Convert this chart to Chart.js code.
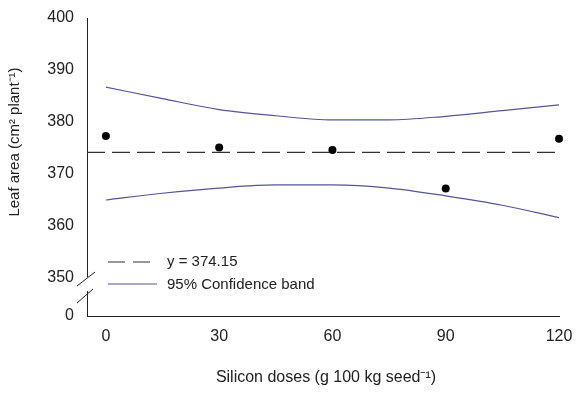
<!DOCTYPE html>
<html>
<head>
<meta charset="utf-8">
<script src="https://cdn.jsdelivr.net/npm/chart.js@4"></script>
<style>
  html, body { margin: 0; padding: 0; background: #fff; }
  #wrap { width: 584px; height: 393px; }
</style>
</head>
<body>
<div id="wrap"><canvas id="chart" width="584" height="393"></canvas></div>
<script>
// observed data
const doses = [0, 30, 60, 90, 120];
const leafArea = [377.3, 375.1, 374.6, 367.2, 376.8];
const meanLeafArea = 374.15;
const meanX = [-5, 120];

// 95% confidence band
const bandX = [0, 15, 30, 45, 60, 75, 90, 105, 120];
const upperBand = [386.7, 384.5, 382.4, 381.2, 380.4, 380.4, 381.1, 382.2, 383.3];
const lowerBand = [365.0, 366.3, 367.3, 367.9, 367.9, 367.3, 365.8, 364.0, 361.6];

// axis ticks
const xTicks = [0, 30, 60, 90, 120];
const yTicks = [350, 360, 370, 380, 390, 400];
const yBreak = 342.7; // where the "0" sits below the axis break

const FONT = "'Liberation Sans Narrow', 'Arial Narrow', 'Liberation Sans', Arial, sans-serif";
const BAND_COLOR = "#55559a";
const MEAN_COLOR = "#333333";
const MEAN_DASH = [18, 7];

const pairs = (xs, ys) => xs.map((x, i) => ({ x: x, y: ys[i] }));

const extras = {
  id: "extras",
  afterDraw(chart) {
    const ctx = chart.ctx;
    const yAxis = chart.scales.y;
    const axX = yAxis.right;

    // axis break on the y axis
    ctx.save();
    ctx.fillStyle = "#fff";
    ctx.fillRect(axX - 3, 277, 6, 14);
    ctx.strokeStyle = "#222";
    ctx.lineWidth = 1;
    ctx.beginPath();
    ctx.moveTo(77, 286);
    ctx.lineTo(95, 272);
    ctx.moveTo(77, 303);
    ctx.lineTo(93, 289);
    ctx.stroke();

    // legend
    ctx.lineWidth = 1.2;
    ctx.strokeStyle = MEAN_COLOR;
    ctx.setLineDash([17, 8]);
    ctx.beginPath();
    ctx.moveTo(108, 262);
    ctx.lineTo(158, 262);
    ctx.stroke();
    ctx.setLineDash([]);
    ctx.strokeStyle = BAND_COLOR;
    ctx.beginPath();
    ctx.moveTo(108, 284);
    ctx.lineTo(157, 284);
    ctx.stroke();
    ctx.fillStyle = "#222";
    ctx.font = "15px " + FONT;
    ctx.textBaseline = "middle";
    ctx.textAlign = "left";
    ctx.fillText("y = " + meanLeafArea.toFixed(2), 167, 262);
    ctx.fillText("95% Confidence band", 167, 285);

    // axis titles
    ctx.font = "16px " + FONT;
    ctx.textAlign = "center";
    ctx.fillText("Silicon doses (g 100 kg seed\u207B\u00B9)", 326, 378);
    ctx.font = "15px " + FONT;
    ctx.translate(15, 142);
    ctx.rotate(-Math.PI / 2);
    ctx.fillText("Leaf area (cm\u00B2 plant\u207B\u00B9)", 0, 0);
    ctx.restore();
  }
};

new Chart(document.getElementById("chart"), {
  type: "scatter",
  data: {
    datasets: [
      {
        label: "Leaf area",
        data: pairs(doses, leafArea),
        pointRadius: 4,
        pointBackgroundColor: "#000",
        pointBorderWidth: 0,
        showLine: false,
        clip: false
      },
      {
        label: "y = " + meanLeafArea,
        data: pairs(meanX, [meanLeafArea, meanLeafArea]),
        showLine: true,
        pointRadius: 0,
        borderColor: MEAN_COLOR,
        borderWidth: 1.2,
        borderDash: MEAN_DASH
      },
      {
        label: "Upper band",
        data: pairs(bandX, upperBand),
        showLine: true,
        pointRadius: 0,
        borderColor: BAND_COLOR,
        borderWidth: 1.2,
        cubicInterpolationMode: "monotone"
      },
      {
        label: "Lower band",
        data: pairs(bandX, lowerBand),
        showLine: true,
        pointRadius: 0,
        borderColor: BAND_COLOR,
        borderWidth: 1.2,
        cubicInterpolationMode: "monotone"
      }
    ]
  },
  options: {
    responsive: false,
    animation: false,
    layout: { padding: { top: 18, right: 25, left: 0, bottom: 0 } },
    plugins: {
      legend: { display: false },
      tooltip: { enabled: false }
    },
    scales: {
      x: {
        type: "linear",
        min: -5,
        max: 120,
        afterBuildTicks: (s) => { s.ticks = xTicks.map((v) => ({ value: v })); },
        afterFit: (s) => { s.height = 77; },
        grid: { display: false, drawTicks: true, tickLength: 5, color: "#222" },
        border: { color: "#222", width: 1 },
        ticks: { color: "#222", font: { family: FONT, size: 16 }, padding: 6, maxRotation: 0 }
      },
      y: {
        type: "linear",
        min: yBreak,
        max: 400,
        afterBuildTicks: (s) => { s.ticks = [yBreak].concat(yTicks).map((v) => ({ value: v })); },
        afterFit: (s) => { s.width = 87; },
        grid: { display: false, drawTicks: true, tickLength: 5, color: "#222" },
        border: { color: "#222", width: 1 },
        ticks: {
          color: "#222",
          font: { family: FONT, size: 16 },
          padding: 8,
          callback: (v) => (v === yBreak ? "0" : v)
        }
      }
    }
  },
  plugins: [extras]
});
</script>
</body>
</html>
